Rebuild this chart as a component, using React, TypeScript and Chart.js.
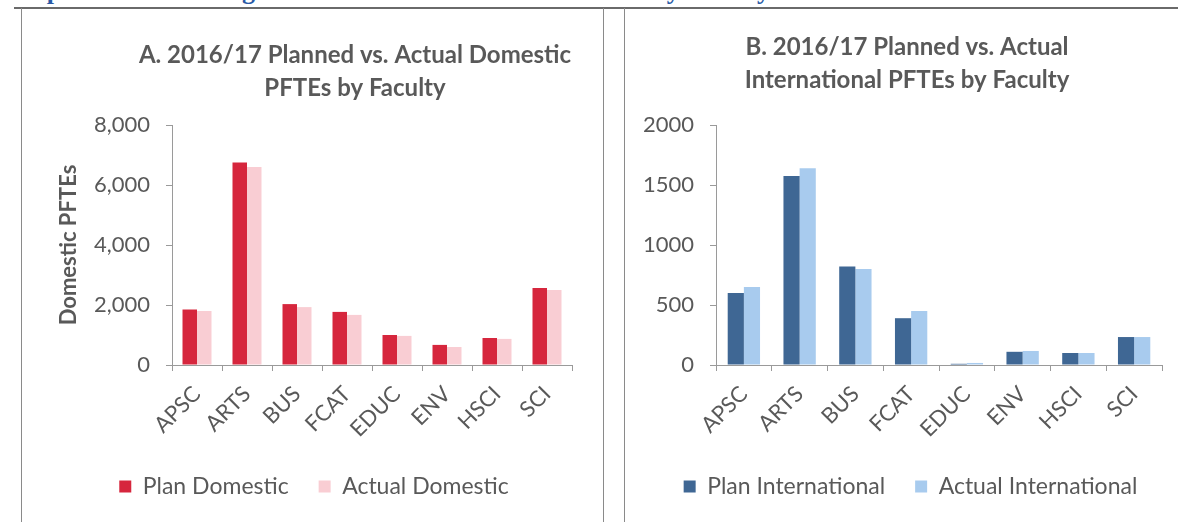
import React, { useEffect, useRef } from "react";
import { Chart, registerables } from "chart.js";

Chart.register(...registerables);

// ---------- data ----------
const faculties = ["APSC", "ARTS", "BUS", "FCAT", "EDUC", "ENV", "HSCI", "SCI"];
const planDomestic = [1850, 6750, 2030, 1770, 1000, 670, 900, 2570];
const actualDomestic = [1800, 6600, 1930, 1670, 970, 600, 870, 2500];
const planInternational = [600, 1575, 820, 390, 10, 110, 100, 233];
const actualInternational = [650, 1640, 800, 450, 17, 117, 100, 233];
const domesticTicks = [0, 2000, 4000, 6000, 8000];
const internationalTicks = [0, 500, 1000, 1500, 2000];
const titleA = ["A. 2016/17 Planned vs. Actual Domestic", "PFTEs by Faculty"];
const titleB = ["B. 2016/17 Planned vs. Actual", "International PFTEs by Faculty"];
const seriesNames = {
  planD: "Plan Domestic",
  actualD: "Actual Domestic",
  planI: "Plan International",
  actualI: "Actual International",
};
const yTitleDomestic = "Domestic PFTEs";
const heading = "Graph 1: 2016/17 Program and PFTE Plan versus Actuals by Faculty";

// ---------- styles ----------
const FONT = "Lato";
const TEXT = "#595959";
const AXIS = "#9a9a9a";
const COLORS = {
  planD: "#d6263d",
  actualD: "#f9cdd3",
  planI: "#3f6794",
  actualI: "#a8cbee",
};

const titlePlugin = {
  id: "panelTitle",
  afterLayout(chart: any, _args: any, opts: any) {
    const lg = chart.legend;
    if (lg && opts.legendShift) {
      lg.left += opts.legendShift;
      lg.right += opts.legendShift;
    }
  },
  afterDraw(chart: any, _args: any, opts: any) {
    const ctx = chart.ctx;
    ctx.save();
    ctx.font = `bold ${opts.size}px ${FONT}`;
    ctx.fillStyle = opts.color;
    ctx.textAlign = "center";
    ctx.textBaseline = "middle";
    (opts.lines as string[]).forEach((line, i) => {
      ctx.fillText(line, opts.x, opts.y + i * opts.lineHeight);
    });
    ctx.restore();
  },
};

type PanelCfg = {
  width: number;
  height: number;
  plan: number[];
  actual: number[];
  planLabel: string;
  actualLabel: string;
  planColor: string;
  actualColor: string;
  ticks: number[];
  tickFmt: (v: number) => string;
  yTitle?: string;
  yWidth: number;
  padLeft: number;
  padRight: number;
  title: string[];
  titleX: number;
  titleY: number;
  legendShift: number;
};

function Panel(props: PanelCfg) {
  const ref = useRef<HTMLCanvasElement | null>(null);
  useEffect(() => {
    if (!ref.current) return;
    const p = props;
    const chart = new Chart(ref.current, {
      type: "bar",
      data: {
        labels: faculties,
        datasets: [
          {
            label: p.planLabel,
            data: p.plan,
            backgroundColor: p.planColor,
            borderWidth: 0,
            categoryPercentage: 0.58,
            barPercentage: 1,
          },
          {
            label: p.actualLabel,
            data: p.actual,
            backgroundColor: p.actualColor,
            borderWidth: 0,
            categoryPercentage: 0.58,
            barPercentage: 1,
          },
        ],
      },
      plugins: [titlePlugin as any],
      options: {
        animation: false,
        responsive: false,
        devicePixelRatio: 1,
        layout: {
          padding: { left: p.padLeft, right: p.padRight, top: 115, bottom: 14 },
        },
        font: { family: FONT },
        scales: {
          x: {
            offset: true,
            grid: {
              display: true,
              offset: true,
              drawOnChartArea: false,
              drawTicks: true,
              tickLength: 6,
              color: AXIS,
            },
            border: { display: true, color: AXIS, width: 1 },
            ticks: {
              color: TEXT,
              font: { family: FONT, size: 22 },
              minRotation: 45,
              maxRotation: 45,
              padding: 10,
              autoSkip: false,
            },
            afterFit: (s: any) => {
              s.height = 80;
            },
          },
          y: {
            min: p.ticks[0],
            max: p.ticks[p.ticks.length - 1],
            afterBuildTicks: (axis: any) => {
              axis.ticks = p.ticks.map((v) => ({ value: v }));
            },
            grid: {
              display: true,
              drawOnChartArea: false,
              drawTicks: true,
              tickLength: 6,
              color: AXIS,
            },
            border: { display: true, color: AXIS, width: 1 },
            ticks: {
              color: TEXT,
              font: { family: FONT, size: 22 },
              padding: 16,
              callback: (v: any) => p.tickFmt(Number(v)),
            },
            title: p.yTitle
              ? {
                  display: true,
                  text: p.yTitle,
                  color: TEXT,
                  font: { family: FONT, size: 22, weight: "bold" },
                  padding: { top: 0, bottom: 0 },
                }
              : { display: false },
            afterFit: (s: any) => {
              s.width = p.yWidth;
            },
          },
        },
        plugins: {
          legend: {
            display: true,
            position: "bottom",
            labels: {
              boxWidth: 12,
              boxHeight: 12,
              padding: 30,
              color: TEXT,
              font: { family: FONT, size: 23 },
            },
          },
          tooltip: { enabled: false },
          title: { display: false },
          panelTitle: {
            lines: p.title,
            x: p.titleX,
            y: p.titleY,
            lineHeight: 33,
            size: 24,
            color: TEXT,
            legendShift: p.legendShift,
          },
        } as any,
      },
    });
    return () => chart.destroy();
  }, []);
  return <canvas ref={ref} width={props.width} height={props.height} style={{ display: "block" }} />;
}

export default function App() {
  return (
    <div
      style={{
        position: "fixed",
        left: 0,
        top: 0,
        width: 1178,
        height: 522,
        background: "#fff",
        overflow: "hidden",
      }}
    >
      <div
        style={{
          position: "absolute",
          left: 2,
          top: -24,
          fontFamily: "Liberation Serif",
          fontWeight: "bold",
          fontSize: 26,
          color: "#2a5aa6",
          whiteSpace: "nowrap",
        }}
      >
        {heading}
      </div>
      <div style={{ position: "absolute", left: 14, top: 7, width: 1164, height: 2, background: "#6a6a6a" }} />
      <div style={{ position: "absolute", left: 21, top: 8, width: 1, height: 514, background: "#8a8a8a" }} />
      <div style={{ position: "absolute", left: 603, top: 8, width: 1, height: 514, background: "#8a8a8a" }} />
      <div style={{ position: "absolute", left: 624, top: 8, width: 1, height: 514, background: "#8a8a8a" }} />

      <div style={{ position: "absolute", left: 21, top: 10 }}>
        <Panel
          width={580}
          height={512}
          plan={planDomestic}
          actual={actualDomestic}
          planLabel={seriesNames.planD}
          actualLabel={seriesNames.actualD}
          planColor={COLORS.planD}
          actualColor={COLORS.actualD}
          ticks={domesticTicks}
          tickFmt={(v) => v.toLocaleString("en-US")}
          yTitle={yTitleDomestic}
          yWidth={116}
          padLeft={35}
          padRight={29}
          title={titleA}
          titleX={334}
          titleY={45}
          legendShift={0}
        />
      </div>
      <div style={{ position: "absolute", left: 625, top: 10 }}>
        <Panel
          width={553}
          height={512}
          plan={planInternational}
          actual={actualInternational}
          planLabel={seriesNames.planI}
          actualLabel={seriesNames.actualI}
          planColor={COLORS.planI}
          actualColor={COLORS.actualI}
          ticks={internationalTicks}
          tickFmt={(v) => String(v)}
          yWidth={81}
          padLeft={10}
          padRight={16}
          title={titleB}
          titleX={282}
          titleY={37}
          legendShift={12}
        />
      </div>
    </div>
  );
}
